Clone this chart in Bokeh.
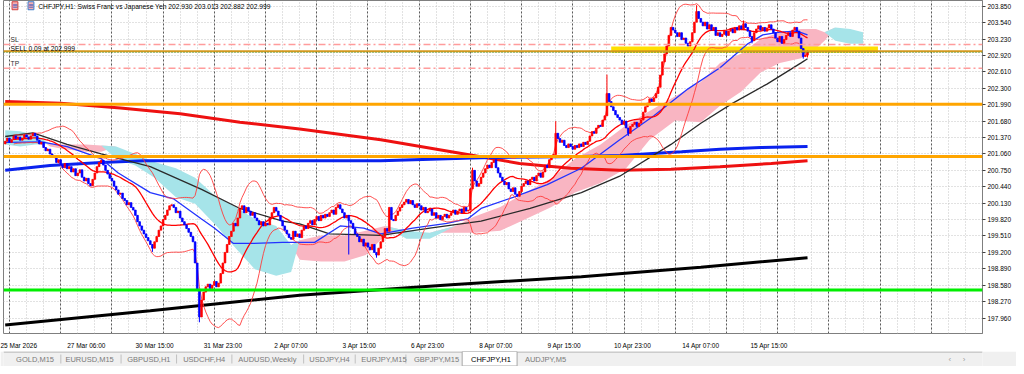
import numpy as np
import pandas as pd
from bokeh.plotting import figure
from bokeh.models import ColumnDataSource, FixedTicker, Span, Label, Grid, PrintfTickFormatter
from bokeh.layouts import column
from bokeh.embed import file_html
from bokeh.resources import INLINE
from bokeh.core.properties import value

# ---------------- data ----------------
symbol_title = "CHFJPY,H1: Swiss Franc vs Japanese Yen 202.930 203.013 202.882 202.999"

first_open = 201.25
closes = [
    201.30, 201.36, 201.28, 201.33, 201.40, 201.35, 201.38, 201.32, 201.36, 201.42,
    201.38, 201.34, 201.40, 201.45, 201.40, 201.32, 201.25, 201.28, 201.18, 201.12,
    201.15, 201.06, 201.02, 201.00, 200.90, 200.95, 200.85, 200.80, 200.88, 200.78,
    200.82, 200.72, 200.78, 200.65, 200.70, 200.76, 200.62, 200.55, 200.60, 200.50,
    200.46, 200.58, 200.70, 200.82, 200.90, 200.94, 200.85, 200.75, 200.68, 200.60,
    200.55, 200.45, 200.38, 200.30, 200.32, 200.22, 200.18, 200.10, 200.14, 200.05,
    200.00, 199.90, 199.78, 199.70, 199.62, 199.55, 199.48, 199.42, 199.35, 199.28,
    199.40, 199.50, 199.62, 199.70, 199.82, 199.90, 200.00, 200.08, 200.10, 200.05,
    199.95, 199.98, 199.85, 199.78, 199.72, 199.65, 199.58, 199.50, 199.40, 199.00,
    198.50, 197.98, 198.30, 198.45, 198.55, 198.60, 198.52, 198.58, 198.65, 198.55,
    198.62, 198.80, 199.00, 199.20, 199.35, 199.50, 199.60, 199.75, 199.70, 199.85,
    200.02, 200.08, 199.95, 200.05, 199.98, 199.90, 199.95, 199.85, 199.80, 199.72,
    199.78, 199.70, 199.75, 199.72, 199.85, 199.95, 200.05, 199.98, 199.90, 199.80,
    199.70, 199.62, 199.55, 199.48, 199.45, 199.60, 199.50, 199.55, 199.48, 199.62,
    199.70, 199.65, 199.75, 199.80, 199.72, 199.82, 199.88, 199.80, 199.90, 199.85,
    199.92, 199.88, 199.95, 200.00, 199.92, 200.05, 200.10, 200.02, 199.95, 199.85,
    199.90, 199.80, 199.75, 199.65, 199.55, 199.50, 199.40, 199.45, 199.32, 199.38,
    199.30, 199.25, 199.35, 199.20, 199.15, 199.28, 199.40, 199.50, 199.65, 199.60,
    200.05, 199.82, 199.80, 199.90, 199.98, 200.05, 200.10, 200.15, 200.20, 200.12,
    200.18, 200.10, 200.05, 200.12, 200.08, 200.00, 200.05, 199.95, 199.98, 200.02,
    199.90, 199.95, 199.85, 199.90, 199.82, 199.88, 199.92, 199.85, 199.90, 199.95,
    200.00, 199.92, 199.98, 200.02, 199.95, 200.05, 199.98, 200.00, 200.40, 200.75,
    200.55, 200.45, 200.50, 200.62, 200.70, 200.78, 200.85, 200.80, 200.90, 200.95,
    200.80, 200.70, 200.62, 200.55, 200.48, 200.52, 200.40, 200.35, 200.42, 200.30,
    200.26, 200.35, 200.45, 200.50, 200.55, 200.48, 200.58, 200.62, 200.55, 200.65,
    200.70, 200.62, 200.72, 200.85, 200.80, 200.95, 201.02, 201.05, 201.45, 201.35,
    201.28, 201.32, 201.22, 201.18, 201.25, 201.20, 201.15, 201.22, 201.18, 201.25,
    201.20, 201.28, 201.24, 201.30, 201.40, 201.48, 201.45, 201.55, 201.60, 201.58,
    201.70, 201.78, 202.20, 202.05, 201.95, 201.88, 201.80, 201.75, 201.70, 201.62,
    201.68, 201.55, 201.45, 201.58, 201.62, 201.66, 201.58, 201.64, 201.70, 201.85,
    201.95, 202.02, 202.10, 202.05, 202.12, 202.20, 202.32, 202.55, 202.80, 202.95,
    203.10, 203.30, 203.45, 203.40, 203.35, 203.28, 203.35, 203.22, 203.25, 203.15,
    203.10, 203.18, 203.35, 203.55, 203.75, 203.62, 203.55, 203.48, 203.55, 203.42,
    203.50, 203.40, 203.45, 203.30, 203.35, 203.28, 203.32, 203.38, 203.30, 203.38,
    203.42, 203.35, 203.45, 203.40, 203.48, 203.42, 203.52, 203.45, 203.38, 203.28,
    203.20, 203.35, 203.42, 203.48, 203.40, 203.45, 203.38, 203.44, 203.50, 203.42,
    203.35, 203.25, 203.18, 203.28, 203.15, 203.22, 203.30, 203.35, 203.28, 203.40,
    203.45, 203.38, 203.25, 203.05, 202.90, 202.93, 202.999,
]

high_wick_idx = [219, 258, 282, 324, 346, 376]
high_wick_px = [200.80, 201.68, 202.56, 203.87, 203.58, 203.013]
low_wick_idx = [69, 91, 161, 174, 292, 350, 374, 376]
low_wick_px = [199.21, 197.88, 199.16, 199.10, 201.40, 203.15, 202.86, 202.882]

blue_ma_idx = [0, 17, 29, 45, 53, 68, 79, 92, 98, 107, 116, 130, 145, 157, 168, 176, 191,
               207, 217, 223, 238, 254, 270, 288, 304, 320, 335, 348, 355, 363, 371, 376]
blue_ma_px = [201.28, 201.29, 201.20, 200.97, 200.70, 200.33, 200.21, 199.83, 199.66, 199.37,
              199.37, 199.39, 199.39, 199.70, 199.66, 199.55, 199.66, 199.75, 199.84, 200.03,
              200.24, 200.48, 200.79, 201.33, 201.78, 202.29, 202.69, 203.14, 203.31, 203.36,
              203.38, 203.31]

gray_ma_idx = [0, 13, 29, 45, 68, 92, 110, 130, 138, 152, 176, 199, 223, 246, 270, 288,
               312, 326, 341, 357, 373, 376]
gray_ma_px = [201.39, 201.46, 201.24, 201.06, 200.82, 200.39, 200.03, 199.79, 199.74, 199.55,
              199.52, 199.66, 199.79, 200.03, 200.33, 200.64, 201.24, 201.64, 202.02, 202.38,
              202.78, 202.86]

red_long_idx = [0, 26, 54, 82, 110, 138, 176, 218, 241, 265, 288, 312, 335, 359, 376]
red_long_px = [202.05, 202.02, 201.93, 201.82, 201.66, 201.53, 201.33, 201.04, 200.88, 200.79,
               200.75, 200.77, 200.82, 200.88, 200.93]

blue_long_idx = [0, 21, 45, 65, 138, 176, 223, 270, 288, 317, 335, 354, 376]
blue_long_px = [200.75, 200.84, 200.90, 200.93, 200.93, 200.93, 200.99, 201.01, 201.03, 201.10,
                201.15, 201.18, 201.20]

trend_idx = [0, 68, 138, 209, 270, 326, 376]
trend_px = [197.83, 198.10, 198.39, 198.59, 198.74, 198.92, 199.10]

cloud_idx = [0, 7, 14, 21, 28, 38, 45, 52, 61, 70, 80, 89, 99, 108, 117, 127, 134, 138, 148,
             159, 169, 178, 188, 199, 211, 220, 232, 244, 256, 267, 279, 291, 302, 314, 326,
             335, 345, 354, 363, 373, 380, 384, 389, 396, 402]
span_a = [201.24, 201.20, 201.24, 201.25, 201.24, 201.24, 201.22, 200.97, 200.84, 200.61,
          200.24, 200.12, 199.70, 199.28, 198.88, 198.76, 198.83, 199.43, 199.52, 199.52,
          199.61, 199.70, 199.46, 199.46, 199.70, 199.88, 200.06, 200.33, 200.60, 200.97,
          201.24, 201.60, 201.87, 202.15, 202.42, 202.78, 202.96, 203.23, 203.36, 203.42,
          203.42, 203.36, 203.20, 203.14, 203.14]
span_b = [201.51, 201.49, 201.42, 201.20, 201.15, 201.10, 201.10, 201.20, 201.06, 200.91,
          200.79, 200.61, 200.24, 200.06, 199.83, 199.70, 199.34, 199.06, 199.03, 199.03,
          199.15, 199.52, 199.61, 199.57, 199.57, 199.57, 199.61, 199.83, 200.06, 200.33,
          200.51, 200.79, 201.33, 201.69, 201.66, 201.97, 202.24, 202.60, 202.78, 202.87,
          203.05, 203.20, 203.45, 203.42, 203.36]

orange_levels = [202.00, 201.01]
green_level = 198.49
sl_level = 203.13
tp_level = 202.68
order_level = 202.999
zone_idx = [284, 409]
zone_px = [202.97, 203.09]

price_ticks = [197.960, 198.270, 198.580, 198.890, 199.200, 199.510, 199.820, 200.130,
               200.440, 200.750, 201.060, 201.370, 201.680, 201.990, 202.300, 202.610,
               202.920, 203.230, 203.540, 203.850]
time_tick_idx = [0, 32, 64, 96, 128, 160, 192, 224, 256, 288, 320, 352]
time_labels = ["25 Mar 2026", "27 Mar 06:00", "30 Mar 15:00", "31 Mar 23:00", "2 Apr 07:00",
               "3 Apr 15:00", "6 Apr 23:00", "8 Apr 07:00", "9 Apr 15:00", "10 Apr 23:00",
               "14 Apr 07:00", "15 Apr 15:00"]

tab_names = ["GOLD,M15", "EURUSD,M15", "GBPUSD,H1", "USDCHF,H4", "AUDUSD,Weekly", "USDJPY,H4",
             "EURJPY,M15", "GBPJPY,M15", "CHFJPY,H1", "AUDJPY,M5"]

# ---------------- layout / style constants ----------------
FONT = "Liberation Sans"
XR = (-0.8, 458.0)
YR = (197.668, 203.959)
LABEL_SHIFT = 6          # half label width in bars (labels start at their tick, MT4 style)
W, H_MAIN, H_TABS = 1016, 351, 15
BORDER_L, BORDER_R, BORDER_B = 3, 34, 10

# ---------------- derived series ----------------
n = len(closes)
idx = np.arange(n)
c = np.array(closes)
o = np.concatenate([[first_open], c[:-1]])
hi = np.maximum(o, c)
lo = np.minimum(o, c)
for i, v in zip(high_wick_idx, high_wick_px):
    hi[i] = max(hi[i], v)
for i, v in zip(low_wick_idx, low_wick_px):
    lo[i] = min(lo[i], v)
bull = c >= o
col = np.where(bull, "#ff0000", "#0000ff")

s = pd.Series(c)
bb_mid = s.rolling(20, min_periods=5).mean()
bb_sd = s.rolling(20, min_periods=5).std(ddof=0)
bb_up = bb_mid + 2 * bb_sd
bb_lo = bb_mid - 2 * bb_sd

candles = ColumnDataSource(dict(x=idx, top=np.maximum(o, c), bottom=np.minimum(o, c),
                                high=hi, low=lo, color=col))

sa = np.array(span_a)
sb = np.array(span_b)
top = np.maximum(sa, sb)

# ---------------- main figure ----------------
p = figure(width=W, height=H_MAIN, x_range=XR, y_range=YR, y_axis_location="right",
           toolbar_location=None, output_backend="svg",
           min_border_left=BORDER_L, min_border_right=BORDER_R, min_border_top=0,
           min_border_bottom=BORDER_B,
           background_fill_color="white", border_fill_color="white",
           outline_line_color="#7f7f7f")

p.yaxis.ticker = FixedTicker(ticks=price_ticks)
p.yaxis.formatter = PrintfTickFormatter(format="%.3f")
p.yaxis.major_label_text_font = FONT
p.yaxis.major_label_text_font_size = "6.5px"
p.yaxis.major_label_text_color = "#000000"
p.yaxis.major_tick_out = 3
p.yaxis.major_tick_in = 0
p.yaxis.minor_tick_line_color = None
p.yaxis.major_tick_line_color = "#404040"
p.yaxis.axis_line_color = "#7f7f7f"
p.yaxis.major_label_standoff = 2

xt = [int(t + LABEL_SHIFT) for t in time_tick_idx]
p.xaxis.ticker = FixedTicker(ticks=xt)
p.xaxis.major_label_overrides = {t: lab for t, lab in zip(xt, time_labels)}
p.xaxis.major_label_text_font = FONT
p.xaxis.major_label_text_font_size = "6.5px"
p.xaxis.major_label_text_color = "#000000"
p.xaxis.major_tick_line_color = None
p.xaxis.minor_tick_line_color = None
p.xaxis.axis_line_color = None
p.xaxis.major_label_standoff = 2

p.ygrid.grid_line_color = "#c4c4c4"
p.ygrid.grid_line_dash = "1 2"
p.xgrid.ticker = FixedTicker(ticks=list(range(2, 459, 8)))
p.xgrid.grid_line_color = "#c4c4c4"
p.xgrid.grid_line_dash = "1 2"
sep = Grid(dimension=0, ticker=FixedTicker(ticks=list(range(2, 459, 24))),
           grid_line_color="#5a5a5a", grid_line_dash="2 2", grid_line_width=1)
p.add_layout(sep)

# ichimoku cloud
p.varea(x=cloud_idx, y1=sb, y2=top, fill_color="#f9b5c2", fill_alpha=1.0)
p.varea(x=cloud_idx, y1=sa, y2=top, fill_color="#a6e4e9", fill_alpha=1.0)

# yellow zone
p.quad(left=[zone_idx[0]], right=[zone_idx[1]], bottom=[zone_px[0]], top=[zone_px[1]],
       fill_color="#ffdf00", line_color=None)

# long lines
p.line(trend_idx, trend_px, line_color="#000000", line_width=3)
p.line(red_long_idx, red_long_px, line_color="#ee1111", line_width=3)
p.line(blue_long_idx, blue_long_px, line_color="#0a22ee", line_width=3)

# moving averages / bands
p.line(gray_ma_idx, gray_ma_px, line_color="#2a2a2a", line_width=1.3)
p.line(blue_ma_idx, blue_ma_px, line_color="#2233ff", line_width=1.3)
p.line(idx, bb_up, line_color="#ff3c3c", line_width=0.9)
p.line(idx, bb_lo, line_color="#ff3c3c", line_width=0.9)
p.line(idx, bb_mid, line_color="#ff0000", line_width=1.3)

# candles
p.segment(x0="x", y0="low", x1="x", y1="high", line_color="color", line_width=1, source=candles)
p.vbar(x="x", top="top", bottom="bottom", width=0.8, fill_color="color", line_color="color",
       line_width=0.7, source=candles)

# horizontal levels
for lv in orange_levels:
    p.add_layout(Span(location=lv, dimension="width", line_color="#ffa500", line_width=3))
p.add_layout(Span(location=green_level, dimension="width", line_color="#00ee00", line_width=3))
p.add_layout(Span(location=sl_level, dimension="width", line_color="#ff9c9c", line_width=1.5,
                  line_dash="7 3 2 3"))
p.add_layout(Span(location=tp_level, dimension="width", line_color="#ff9c9c", line_width=1.5,
                  line_dash="7 3 2 3"))
p.add_layout(Span(location=order_level, dimension="width", line_color="#d79a1e", line_width=2))
p.add_layout(Span(location=order_level - 0.02, dimension="width", line_color="#2e8b2e",
                  line_width=1, line_dash="1 2"))

# header icons and texts
p.add_layout(Label(x=3.2, y=203.86, text="\u2261", text_font="DejaVu Sans",
                   text_font_size="7px", text_color="#2f4fbf", text_baseline="middle",
                   background_fill_color="#f6b0b0", border_line_color="#d04040"))
p.add_layout(Label(x=10.7, y=203.86, text="\u2261", text_font="DejaVu Sans",
                   text_font_size="7px", text_color="#2f4fbf", text_baseline="middle",
                   background_fill_color="#f6b0b0", border_line_color="#3a7fd0"))
p.add_layout(Label(x=15.5, y=203.85, text=symbol_title, text_font=FONT, text_font_size="6.7px",
                   text_color="#000000", text_baseline="middle"))
p.add_layout(Label(x=2.5, y=sl_level + 0.1, text="SL", text_font=FONT, text_font_size="6.7px",
                   text_color="#303030", text_baseline="middle"))
p.add_layout(Label(x=2.5, y=order_level + 0.06, text="SELL 0.09 at 202.999", text_font=FONT,
                   text_font_size="6.7px", text_color="#000000", text_baseline="middle"))
p.add_layout(Label(x=2.5, y=tp_level + 0.09, text="TP", text_font=FONT, text_font_size="6.7px",
                   text_color="#303030", text_baseline="middle"))

# ---------------- tab bar ----------------
tab_centers = [32.7, 89.3, 150.8, 208.3, 273.8, 338.3, 394.8, 449.4, 505.9, 562.5]
tab_seps = [59.5, 122, 179.6, 237, 311.5, 365, 417.6]
active = 8

p2 = figure(width=W, height=H_TABS, x_range=(0, W), y_range=(0, H_TABS), toolbar_location=None,
            output_backend="svg", min_border=0, x_axis_location=None, y_axis_location=None,
            background_fill_color="#f0f0f0", border_fill_color="#f0f0f0", outline_line_color=None)
p2.grid.visible = False
p2.segment(x0=[0], y0=[H_TABS - 0.5], x1=[W], y1=[H_TABS - 0.5], line_color="#a8a8a8",
           line_width=1)
p2.quad(left=[476], right=[533], bottom=[0.5], top=[H_TABS], fill_color="#ffffff",
        line_color="#a8a8a8", line_width=1)
p2.segment(x0=tab_seps, y0=[3] * len(tab_seps), x1=tab_seps, y1=[12] * len(tab_seps),
           line_color="#c0c0c0", line_width=1)
tcol = ["#7a7a7a"] * len(tab_names)
tcol[active] = "#000000"
p2.text(x=tab_centers, y=[7.5] * len(tab_names), text=tab_names, text_color=tcol,
        text_font=value(FONT), text_font_size="7.5px", text_align="center",
        text_baseline="middle")
p2.text(x=[982, 997], y=[7.5, 7.5], text=["\u2039", "\u203a"], text_color="#a0a0a0",
        text_font=value(FONT), text_font_size="8px", text_align="center", text_baseline="middle")

layout = column(p, p2, spacing=0)
open("out.html", "w").write(file_html(layout, INLINE))
